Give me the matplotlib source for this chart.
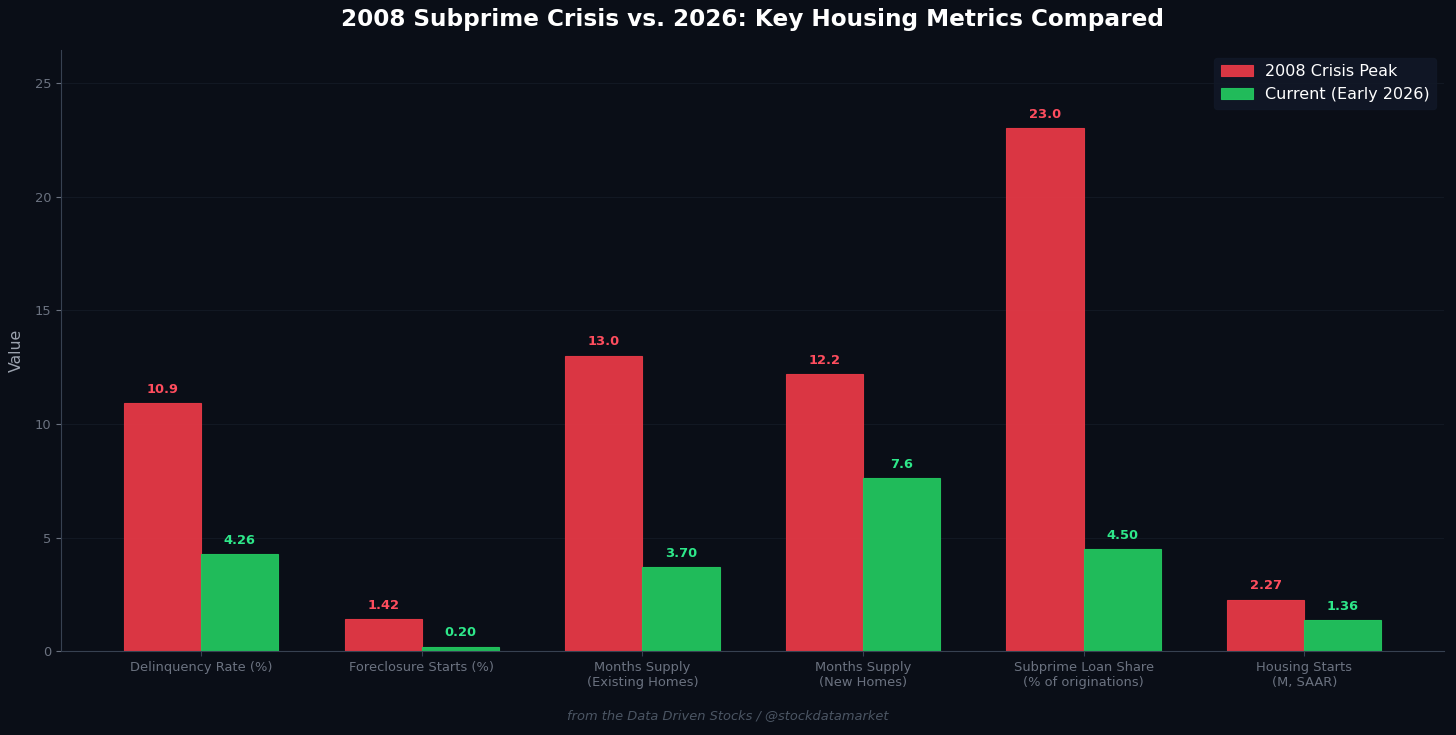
import numpy as np
import matplotlib
matplotlib.use('Agg')
import matplotlib.pyplot as plt

# Data
categories = ['Delinquency Rate (%)', 'Foreclosure Starts (%)', 'Months Supply\n(Existing Homes)',
              'Months Supply\n(New Homes)', 'Subprime Loan Share\n(% of originations)', 'Housing Starts\n(M, SAAR)']
crisis_2008 = [10.9, 1.42, 13.0, 12.2, 23.0, 2.27]
current_2026 = [4.26, 0.20, 3.70, 7.6, 4.50, 1.36]
crisis_labels = ['10.9', '1.42', '13.0', '12.2', '23.0', '2.27']
current_labels = ['4.26', '0.20', '3.70', '7.6', '4.50', '1.36']

bg = '#0a0e17'
red = '#e63946'
green = '#22c55e'

fig, ax = plt.subplots(figsize=(14.56, 7.35), dpi=100)
fig.patch.set_facecolor(bg)
ax.set_facecolor(bg)

x = np.arange(len(categories))
w = 0.35
b1 = ax.bar(x - w / 2, crisis_2008, w, color=red, alpha=0.95, edgecolor=red, linewidth=0.8, label='2008 Crisis Peak')
b2 = ax.bar(x + w / 2, current_2026, w, color=green, alpha=0.95, edgecolor=green, linewidth=0.8, label='Current (Early 2026)')

ymax = max(crisis_2008) * 1.15
for rect, lbl in zip(b1, crisis_labels):
    ax.text(rect.get_x() + rect.get_width() / 2, rect.get_height() + ymax * 0.012, lbl,
            ha='center', va='bottom', color='#ff4d5e', fontsize=9.4, fontweight='bold')
for rect, lbl in zip(b2, current_labels):
    ax.text(rect.get_x() + rect.get_width() / 2, rect.get_height() + ymax * 0.012, lbl,
            ha='center', va='bottom', color='#2ee88a', fontsize=9.4, fontweight='bold')

ax.set_ylim(0, ymax)
ax.set_xticks(x)
ax.set_xticklabels(categories, color='#6b7280', fontsize=9.4)
ax.tick_params(axis='y', colors='#6b7280', labelsize=9.4)
ax.tick_params(axis='x', colors='#374151')
for lab in ax.get_xticklabels():
    lab.set_color('#6b7280')
ax.set_ylabel('Value', color='#9ca3af', fontsize=11.3, labelpad=8)
ax.set_title('2008 Subprime Crisis vs. 2026: Key Housing Metrics Compared',
             color='white', fontsize=16.7, fontweight='bold', pad=17)

for s in ['top', 'right']:
    ax.spines[s].set_visible(False)
for s in ['left', 'bottom']:
    ax.spines[s].set_color('#374151')
ax.yaxis.grid(True, color='#1f2937', alpha=0.4, linewidth=0.8)
ax.set_axisbelow(True)

leg = ax.legend(loc='upper right', fontsize=11.5, facecolor='#111827', edgecolor='#111827',
                labelcolor='white', framealpha=0.9)

fig.text(0.5, 0.018, 'from the Data Driven Stocks / @stockdatamarket', ha='center', va='bottom',
         color='#4b5563', fontsize=9.4, style='italic')

plt.subplots_adjust(left=0.042, right=0.992, top=0.932, bottom=0.114)
plt.savefig('out.png', facecolor=bg)
